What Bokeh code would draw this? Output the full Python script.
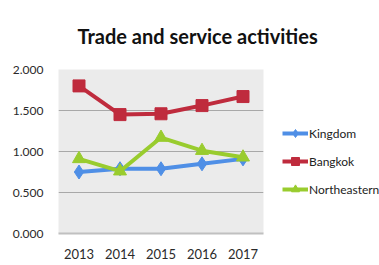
from bokeh.plotting import figure
from bokeh.models import Legend, LegendItem, NumeralTickFormatter, FixedTicker, Range1d
from bokeh.embed import file_html
from bokeh.resources import INLINE

years = ["2013", "2014", "2015", "2016", "2017"]
kingdom = [0.75, 0.79, 0.79, 0.85, 0.91]
bangkok = [1.80, 1.45, 1.46, 1.56, 1.67]
northeastern = [0.91, 0.76, 1.17, 1.01, 0.93]
y_ticks = [0.0, 0.5, 1.0, 1.5, 2.0]

FONT = "Lato"
p = figure(x_range=years, y_range=Range1d(0, 2.0), frame_width=205, frame_height=164,
           output_backend="svg", toolbar_location=None,
           min_border_left=58, min_border_right=0, min_border_top=69, min_border_bottom=30)
p.title.text = "Trade and service activities"
p.title.text_font = FONT
p.title.text_font_size = "20px"
p.title.text_font_style = "bold"
p.title.align = "left"
p.title.offset = 19
p.title.standoff = 40
p.title.vertical_align = "top"
p.title.text_color = "#111111"

p.background_fill_color = "#ebebeb"
p.border_fill_color = "white"
p.outline_line_color = None
p.xgrid.grid_line_color = None
p.ygrid.grid_line_color = "#a8a8a8"
p.ygrid.grid_line_width = 1

p.yaxis.ticker = FixedTicker(ticks=y_ticks)
p.yaxis.formatter = NumeralTickFormatter(format="0.000")
for ax in (p.xaxis, p.yaxis):
    ax.major_label_text_font = FONT
    ax.major_label_text_color = "#2a2a2a"
    ax.major_tick_line_color = None
    ax.minor_tick_line_color = None
p.yaxis.major_label_text_font_size = "12px"
p.xaxis.major_label_text_font_size = "13px"
p.xaxis.major_label_standoff = 9
p.yaxis.major_label_standoff = 9
p.yaxis.axis_line_color = None
p.xaxis.axis_line_color = "#c0c0c0"
p.xaxis.axis_line_width = 2

series = [
    ("Kingdom", kingdom, "#4f8fe6", "diamond", 14),
    ("Bangkok", bangkok, "#bf2b3d", "square", 12),
    ("Northeastern", northeastern, "#99cc2e", "triangle", 13),
]
items = []
for name, vals, col, mk, sz in series:
    r1 = p.line(years, vals, line_color=col, line_width=4)
    r2 = p.scatter(years, vals, marker=mk, size=sz, fill_color=col, line_color=col)
    items.append(LegendItem(label=name, renderers=[r1, r2]))

legend = Legend(items=items, location="center_left", border_line_color=None,
                background_fill_alpha=0, label_text_font=FONT,
                label_text_font_size="12px", label_text_color="#222222",
                title=" ", title_text_font_size="14px", title_standoff=4,
                glyph_width=26, spacing=8, padding=0, margin=19, label_standoff=1)
p.add_layout(legend, "right")

open("out.html", "w").write(file_html(p, INLINE))
